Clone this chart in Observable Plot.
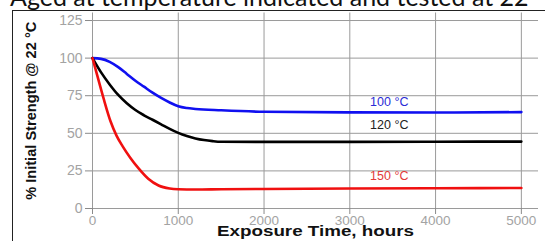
<!DOCTYPE html>
<html>
<head>
<meta charset="utf-8">
<script src="https://cdn.jsdelivr.net/npm/d3@7"></script>
<script src="https://cdn.jsdelivr.net/npm/@observablehq/plot@0.6"></script>
<style>
  html, body { margin: 0; padding: 0; background: #fff; overflow: hidden; width: 545px; height: 241px; }
  #title { position: absolute; left: 10px; top: -16px; font-family: Lato, "Open Sans", sans-serif; font-size: 25px; line-height: 25px; white-space: nowrap; color: #111; }
  #frame { position: absolute; left: 12px; top: 10px; width: 600px; height: 300px; border: 1px solid #222; }
  #chart { position: absolute; left: 0; top: 0; }
</style>
</head>
<body>
<div id="title">Aged at temperature indicated and tested at 22 °C</div>
<div id="frame"><div id="chart"></div></div>
<script>
// ---- data ----
const xTicks = [0, 1000, 2000, 3000, 4000, 5000];
const yTicks = [0, 25, 50, 75, 100, 125];

const series = ["100 °C", "120 °C", "150 °C"];
const colors = ["#1010f0", "#000000", "#f01010"];
const labelColors = ["#2b2bd6", "#222222", "#e23a3a"];

const hours100 = [0, 100, 200, 300, 400, 500, 600, 700, 800, 900, 1000, 1100, 1200, 1500, 2000, 3000, 4000, 5000];
const strength100 = [100, 99.5, 97.5, 94, 89.5, 85, 81, 77, 73.5, 70.5, 68, 66.8, 66.2, 65.3, 64.3, 63.9, 63.8, 64.1];

const hours120 = [0, 100, 200, 300, 400, 500, 600, 700, 800, 900, 1000, 1100, 1200, 1300, 1400, 1500, 2000, 3000, 4000, 5000];
const strength120 = [100, 90.5, 82.5, 75.5, 70, 65.5, 62, 59, 56, 53, 50.3, 48.2, 46.6, 45.5, 44.8, 44.4, 44.3, 44.3, 44.4, 44.5];

const hours150 = [0, 60, 130, 210, 280, 350, 440, 540, 650, 770, 900, 1000, 1200, 1500, 2000, 3000, 4000, 5000];
const strength150 = [100, 87.5, 73, 58, 48.5, 41.5, 33.8, 26.5, 19.8, 15.3, 13.3, 12.8, 12.6, 12.8, 13, 13.3, 13.5, 13.6];

const labelHours = [3460, 3460, 3460];
const labelStrength = [70.8, 55.8, 21.5];

const xTitle = "Exposure Time, hours";
const yTitle = "% Initial Strength @ 22 °C";

// ---- build tables ----
const hoursAll = [hours100, hours120, hours150];
const strengthAll = [strength100, strength120, strength150];
const rows = [];
series.forEach((s, k) => hoursAll[k].forEach((h, i) => rows.push({s, h, v: strengthAll[k][i]})));
const labels = series.map((s, k) => ({s, h: labelHours[k], v: labelStrength[k], c: labelColors[k]}));

const chart = Plot.plot({
  width: 532,
  height: 230,
  marginLeft: 79,
  marginRight: 7,
  marginTop: 1.5,
  marginBottom: 33,
  style: {fontFamily: "'Liberation Sans', Arial, sans-serif", fontSize: "13px", background: "transparent", overflow: "visible"},
  x: {domain: [0, 5200]},
  y: {domain: [0, 130]},
  color: {domain: series, range: colors},
  marks: [
    Plot.ruleY(yTicks, {y: d => d, stroke: "#9a9a9a", strokeWidth: 1}),
    Plot.ruleX(xTicks, {x: d => d, stroke: "#9a9a9a", strokeWidth: 1}),
    Plot.axisY({ticks: yTicks, tickSize: 7, tickPadding: 3, label: null, tickFormat: d => String(d), stroke: "#8a8a8a", fill: "#a3a3a3", fontSize: 14}),
    Plot.axisX({ticks: xTicks, tickSize: 6, tickPadding: 1, label: null, tickFormat: d => String(d), stroke: "#8a8a8a", fill: "#a3a3a3", fontSize: 13.5}),
    Plot.line(rows, {x: "h", y: "v", z: "s", stroke: "s", strokeWidth: 2.6, curve: "monotone-x"}),
    Plot.text(labels, {x: "h", y: "v", text: "s", fill: "c", fontSize: 12.5}),
    Plot.text([xTitle], {frameAnchor: "bottom", textAnchor: "middle", text: d => d, dy: 27.5, fontWeight: "bold", fontSize: 14, fill: "#111", className: "xtitle"}),
    Plot.text([yTitle], {frameAnchor: "left", textAnchor: "middle", text: d => d, dx: -61, rotate: -90, fontWeight: "bold", fontSize: 14, fill: "#111", className: "ytitle"})
  ]
});
document.getElementById("chart").appendChild(chart);
// stretch axis titles to the widths seen in the reference
d3.select(chart).selectAll(".xtitle text").attr("textLength", 197).attr("lengthAdjust", "spacingAndGlyphs");
d3.select(chart).selectAll(".ytitle text").attr("textLength", 178).attr("lengthAdjust", "spacingAndGlyphs");
</script>
</body>
</html>
